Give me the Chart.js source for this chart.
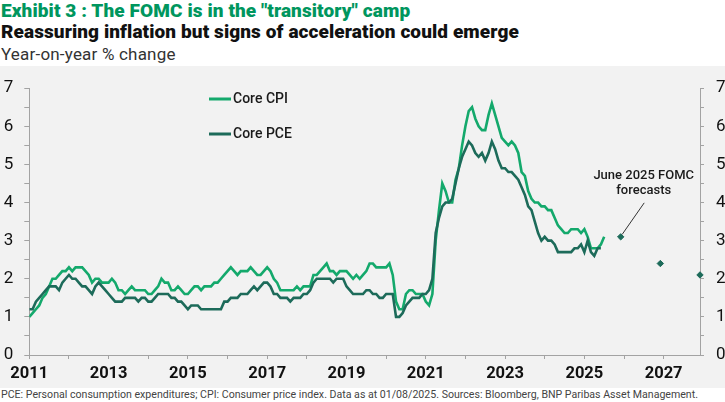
<!DOCTYPE html>
<html lang="en">
<head>
<meta charset="UTF-8">
<title>The FOMC is in the "transitory" camp</title>
<script src="https://cdn.jsdelivr.net/npm/chart.js"></script>
<style>
  body {
    margin: 0;
    width: 725px;
    height: 402px;
    background: #fff;
    font-family: Roboto, "Noto Sans", sans-serif;
    overflow: hidden;
    position: relative;
  }
  .head { position: absolute; left: 1px; white-space: nowrap; line-height: 1.2; }
  #title { top: 0px; font-size: 19px; font-weight: 900; color: #00965e; letter-spacing: 0.1px; }
  #subtitle { top: 21px; font-size: 19px; font-weight: 900; color: #111; letter-spacing: 0.1px; }
  #unit { top: 44px; font-size: 17px; color: #333; letter-spacing: 0.2px; }
  #chartBox {
    position: absolute;
    left: 0;
    top: 66px;
    width: 725px;
    height: 322px;
    background: #f2f2f2;
  }
  #note { position: absolute; left: 1px; top: 388px; font-size: 10.6px; color: #444; white-space: nowrap; }
</style>
</head>
<body>
<div class="head" id="title">Exhibit 3 : The FOMC is in the "transitory" camp</div>
<div class="head" id="subtitle">Reassuring inflation but signs of acceleration could emerge</div>
<div class="head" id="unit">Year-on-year % change</div>

<div id="chartBox">
  <canvas id="inflationChart" width="725" height="322"></canvas>
</div>

<div id="note">PCE: Personal consumption expenditures; CPI: Consumer price index. Data as at 01/08/2025. Sources: Bloomberg, BNP Paribas Asset Management.</div>

<script>
  // monthly series, first value = January 2011
  const startYear = 2011;

  const coreCpi = [
    1.0, 1.1, 1.2, 1.3, 1.5, 1.6, 1.8, 2.0, 2.0, 2.1, 2.2, 2.2,   // 2011
    2.3, 2.2, 2.3, 2.3, 2.3, 2.2, 2.1, 1.9, 2.0, 2.0, 1.9, 1.9,   // 2012
    1.9, 2.0, 1.9, 1.7, 1.7, 1.6, 1.7, 1.8, 1.7, 1.7, 1.7, 1.7,   // 2013
    1.6, 1.6, 1.7, 1.8, 2.0, 1.9, 1.9, 1.7, 1.7, 1.8, 1.7, 1.6,   // 2014
    1.6, 1.7, 1.8, 1.8, 1.7, 1.8, 1.8, 1.8, 1.9, 1.9, 2.0, 2.1,   // 2015
    2.2, 2.3, 2.2, 2.1, 2.2, 2.2, 2.2, 2.3, 2.2, 2.1, 2.1, 2.2,   // 2016
    2.3, 2.2, 2.0, 1.9, 1.7, 1.7, 1.7, 1.7, 1.7, 1.8, 1.7, 1.8,   // 2017
    1.8, 1.8, 2.1, 2.1, 2.2, 2.3, 2.4, 2.2, 2.2, 2.1, 2.2, 2.2,   // 2018
    2.2, 2.1, 2.0, 2.1, 2.0, 2.1, 2.2, 2.4, 2.4, 2.3, 2.3, 2.3,   // 2019
    2.3, 2.4, 2.1, 1.4, 1.2, 1.2, 1.6, 1.7, 1.7, 1.6, 1.6, 1.6,   // 2020
    1.4, 1.3, 1.6, 3.0, 3.8, 4.5, 4.3, 4.0, 4.0, 4.6, 4.9, 5.5,   // 2021
    6.0, 6.4, 6.5, 6.2, 6.0, 5.9, 5.9, 6.3, 6.6, 6.3, 6.0, 5.7,   // 2022
    5.6, 5.5, 5.6, 5.5, 5.3, 4.8, 4.7, 4.3, 4.1, 4.0, 4.0, 3.9,   // 2023
    3.9, 3.8, 3.8, 3.6, 3.4, 3.3, 3.2, 3.2, 3.3, 3.3, 3.3, 3.2,   // 2024
    3.3, 3.1, 2.8, 2.8, 2.8, 2.9, 3.1                             // 2025
  ];

  const corePce = [
    1.2, 1.2, 1.4, 1.5, 1.6, 1.7, 1.8, 1.8, 1.8, 1.7, 1.9, 2.0,   // 2011
    2.1, 2.0, 2.0, 1.9, 1.8, 1.8, 1.7, 1.6, 1.8, 1.9, 1.8, 1.7,   // 2012
    1.6, 1.5, 1.4, 1.4, 1.4, 1.5, 1.5, 1.5, 1.5, 1.4, 1.5, 1.5,   // 2013
    1.4, 1.4, 1.5, 1.6, 1.6, 1.6, 1.6, 1.5, 1.5, 1.4, 1.4, 1.3,   // 2014
    1.2, 1.3, 1.3, 1.3, 1.2, 1.2, 1.2, 1.2, 1.2, 1.2, 1.2, 1.4,   // 2015
    1.4, 1.5, 1.5, 1.5, 1.6, 1.6, 1.6, 1.7, 1.8, 1.7, 1.8, 1.9,   // 2016
    1.9, 1.8, 1.6, 1.6, 1.5, 1.5, 1.5, 1.4, 1.5, 1.5, 1.5, 1.6,   // 2017
    1.6, 1.7, 1.9, 2.0, 2.0, 2.0, 2.0, 2.0, 1.9, 2.0, 2.0, 2.0,   // 2018
    1.8, 1.7, 1.6, 1.6, 1.6, 1.6, 1.7, 1.7, 1.6, 1.6, 1.5, 1.5,   // 2019
    1.6, 1.6, 1.6, 1.0, 1.0, 1.1, 1.3, 1.4, 1.5, 1.5, 1.5, 1.6,   // 2020
    1.6, 1.7, 2.0, 3.2, 3.6, 3.9, 4.0, 4.0, 4.1, 4.5, 4.9, 5.2,   // 2021
    5.4, 5.6, 5.5, 5.3, 5.2, 5.3, 5.1, 5.3, 5.6, 5.4, 5.1, 4.9,   // 2022
    4.9, 4.8, 4.8, 4.7, 4.6, 4.4, 4.2, 3.9, 3.8, 3.5, 3.2, 3.0,   // 2023
    3.1, 3.0, 3.0, 2.9, 2.7, 2.7, 2.7, 2.7, 2.7, 2.8, 2.8, 2.9,   // 2024
    2.7, 3.0, 2.7, 2.6, 2.8, 2.8                                  // 2025
  ];

  // June 2025 FOMC projections (core PCE, Q4 of each year)
  const forecastYears = [2025, 2026, 2027];
  const forecastValues = [3.1, 2.4, 2.1];

  const xTickYears = [2011, 2012, 2013, 2014, 2015, 2016, 2017, 2018, 2019,
                      2020, 2021, 2022, 2023, 2024, 2025, 2026, 2027];
  const xLabelYears = [2011, 2013, 2015, 2017, 2019, 2021, 2023, 2025, 2027];
  const yTickValues = [0, 0.5, 1, 1.5, 2, 2.5, 3, 3.5, 4, 4.5, 5, 5.5, 6, 6.5, 7];
  const yLabelValues = [0, 1, 2, 3, 4, 5, 6, 7];

  const cpiColor = '#14a96c';
  const pceColor = '#1d6b5a';
  const axisColor = '#a3a3a3';

  function monthIndex(year, month) {
    return (year - startYear) * 12 + (month - 1);
  }

  function toPoints(values) {
    return values.map((v, i) => ({ x: i, y: v }));
  }

  // legend + forecast note drawn on the canvas
  const overlay = {
    id: 'overlay',
    afterDraw(chart) {
      const ctx = chart.ctx;
      ctx.save();

      const legend = [['Core CPI', cpiColor, 33], ['Core PCE', pceColor, 68]];
      ctx.font = '500 14px Roboto, "Noto Sans", sans-serif';
      ctx.textBaseline = 'middle';
      legend.forEach(([label, color, y]) => {
        ctx.strokeStyle = color;
        ctx.lineWidth = 3;
        ctx.beginPath();
        ctx.moveTo(209, y);
        ctx.lineTo(231, y);
        ctx.stroke();
        ctx.fillStyle = '#1a1a1a';
        ctx.fillText(label, 233, y + 0.5);
      });

      const x = chart.scales.x, y = chart.scales.y;
      const px = x.getPixelForValue(monthIndex(forecastYears[0], 12));
      const py = y.getPixelForValue(forecastValues[0]);
      ctx.strokeStyle = '#333';
      ctx.lineWidth = 1;
      ctx.beginPath();
      ctx.moveTo(px + 23.5, py - 34);
      ctx.lineTo(px + 1.5, py - 2.5);
      ctx.stroke();
      ctx.fillStyle = '#1a1a1a';
      ctx.font = '500 13px Roboto, "Noto Sans", sans-serif';
      ctx.textAlign = 'center';
      ctx.fillText('June 2025 FOMC', px + 23, py - 61);
      ctx.fillText('forecasts', px + 23, py - 46);
      ctx.restore();
    }
  };

  const yAxisBase = {
    type: 'linear',
    min: 0,
    max: 7,
    afterBuildTicks: s => { s.ticks = yTickValues.map(v => ({ value: v })); },
    grid: { drawOnChartArea: false, color: axisColor, tickLength: 5 },
    border: { color: axisColor },
    ticks: {
      autoSkip: false,
      padding: 11,
      color: '#111',
      font: { family: 'Roboto', size: 17 },
      callback: v => yLabelValues.includes(v) ? String(v) : ''
    }
  };

  new Chart(document.getElementById('inflationChart'), {
    type: 'line',
    data: {
      datasets: [
        {
          label: 'Core PCE',
          data: toPoints(corePce),
          borderColor: pceColor,
          borderWidth: 2.6,
          pointRadius: 0,
          order: 0
        },
        {
          label: 'Core CPI',
          data: toPoints(coreCpi),
          borderColor: cpiColor,
          borderWidth: 2.6,
          pointRadius: 0,
          order: 1
        },
        {
          label: 'June 2025 FOMC forecasts',
          data: forecastYears.map((yr, i) => ({ x: monthIndex(yr, 12), y: forecastValues[i] })),
          showLine: false,
          pointStyle: 'rectRot',
          pointRadius: 3.2,
          backgroundColor: pceColor,
          borderColor: pceColor,
          borderWidth: 1,
          clip: false,
          order: -1
        }
      ]
    },
    options: {
      responsive: false,
      animation: false,
      layout: { padding: { top: 16.5, left: 0, right: 0, bottom: 0 } },
      plugins: { legend: { display: false }, tooltip: { enabled: false } },
      scales: {
        x: {
          type: 'linear',
          min: monthIndex(startYear, 1),
          max: monthIndex(2027, 12),
          afterBuildTicks: s => { s.ticks = xTickYears.map(yr => ({ value: monthIndex(yr, 1) })); },
          afterFit: s => { s.height = 33; },
          grid: { drawOnChartArea: false, color: axisColor, tickLength: 4 },
          border: { color: axisColor },
          ticks: {
            autoSkip: false,
            maxRotation: 0,
            padding: 5,
            color: '#111',
            font: { family: 'Roboto', size: 16.5, weight: 'bold' },
            callback: v => {
              const yr = startYear + v / 12;
              return xLabelYears.includes(yr) ? String(yr) : '';
            }
          }
        },
        y: Object.assign({}, yAxisBase, {
          position: 'left',
          afterFit: s => { s.width = 29.3; }
        }),
        y2: Object.assign({}, yAxisBase, {
          position: 'right',
          grid: { drawOnChartArea: false, color: axisColor, tickLength: 4 },
          ticks: Object.assign({}, yAxisBase.ticks, { padding: 12 }),
          afterFit: s => { s.width = 25; }
        })
      }
    },
    plugins: [overlay]
  });
</script>
</body>
</html>
